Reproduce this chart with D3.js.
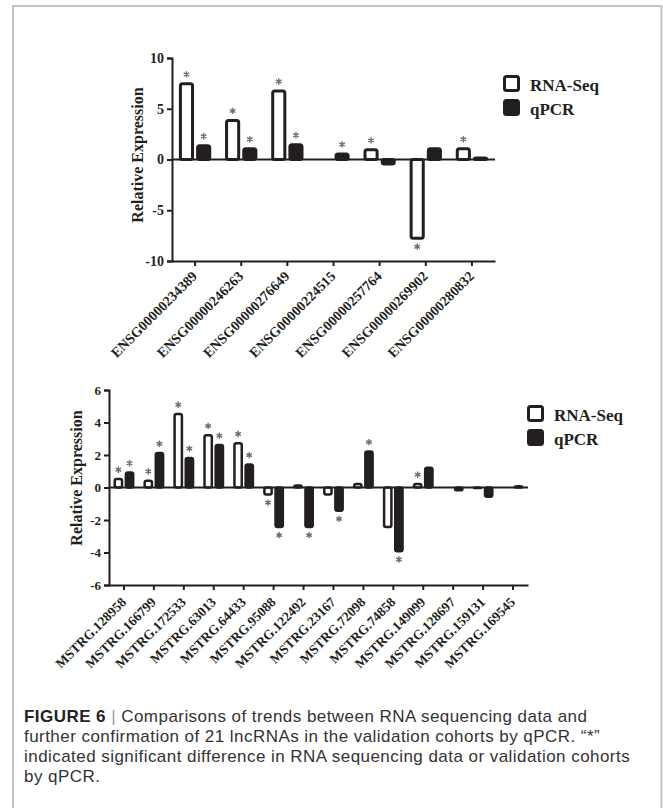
<!DOCTYPE html>
<html>
<head>
<meta charset="utf-8">
<script src="https://cdn.jsdelivr.net/npm/d3@7"></script>
<style>
  body { margin: 0; background: #fff; }
  svg text { font-family: "Liberation Serif", "Times New Roman", serif; font-weight: bold; }
  .cap { font-family: "Liberation Sans", Arial, sans-serif; font-weight: normal; }
</style>
</head>
<body>
<div id="fig"></div>
<script>
const W = 663, H = 808;
const ink = '#231f20';

// top panel data
const topCats = ['ENSG00000234389', 'ENSG00000246263', 'ENSG00000276649', 'ENSG00000224515',
                 'ENSG00000257764', 'ENSG00000269902', 'ENSG00000280832'];
const topRna    = [7.6, 4.0, 6.9, 0, 1.1, -7.9, 1.2];
const topQpcr   = [1.5, 1.2, 1.6, 0.7, -0.6, 1.2, 0.3];
const topRnaSig  = [1, 1, 1, 0, 1, 1, 1];
const topQpcrSig = [1, 1, 1, 1, 0, 0, 0];
const topTicks = [-10, -5, 0, 5, 10];

// bottom panel data
const botCats = ['MSTRG.128958', 'MSTRG.166799', 'MSTRG.172533', 'MSTRG.63013', 'MSTRG.64433',
                 'MSTRG.95088', 'MSTRG.122492', 'MSTRG.23167', 'MSTRG.72098', 'MSTRG.74858',
                 'MSTRG.149099', 'MSTRG.128697', 'MSTRG.159131', 'MSTRG.169545'];
const botRna    = [0.6, 0.5, 4.6, 3.3, 2.8, -0.5, 0.2, -0.5, 0.3, -2.5, 0.3, 0, -0.1, 0];
const botQpcr   = [1.0, 2.2, 1.9, 2.7, 1.5, -2.5, -2.5, -1.5, 2.3, -4.0, 1.3, -0.25, -0.65, 0.15];
const botRnaSig  = [1, 1, 1, 1, 1, 1, 0, 0, 0, 0, 1, 0, 0, 0];
const botQpcrSig = [1, 1, 1, 1, 1, 1, 1, 1, 1, 1, 0, 0, 0, 0];
const botTicks = [-6, -4, -2, 0, 2, 4, 6];

const seriesNames = ['RNA-Seq', 'qPCR'];

const svg = d3.select('#fig').append('svg')
    .attr('width', W)
    .attr('height', H);

// light frame around the figure
svg.append('path')
   .attr('d', 'M13,808 L13,6 L661.5,6 L661.5,808')
   .attr('fill', 'none')
   .attr('stroke', '#c4c4c4')
   .attr('stroke-width', 2);

const star = d3.symbol(d3.symbolAsterisk, 28);

function panel(o) {
    const g = svg.append('g');
    const x = d3.scaleBand().domain(o.cats).range([o.x0, o.x1]);
    const y = d3.scaleLinear().domain(o.dom).range([o.yb, o.yt]);
    const half = x.bandwidth() * 0.35;

    // y axis (plain hyphen for negatives, like the original)
    const ya = g.append('g')
        .attr('transform', `translate(${o.x0},0)`)
        .call(d3.axisLeft(y).tickValues(o.ticks).tickFormat(d => String(d)).tickSize(5).tickPadding(3));
    ya.select('.domain').attr('stroke', ink).attr('stroke-width', 2);
    ya.selectAll('.tick line').attr('stroke', ink).attr('stroke-width', 2);
    ya.selectAll('text').attr('fill', ink).style('font-size', o.tickFs + 'px')
      .style('font-family', '"Liberation Serif", serif').style('font-weight', 'bold');

    // x axis at the bottom
    const xa = g.append('g')
        .attr('transform', `translate(0,${o.yb})`)
        .call(d3.axisBottom(x).tickSize(5).tickSizeOuter(0).tickFormat(''));
    xa.select('.domain').attr('stroke', ink).attr('stroke-width', 2);
    xa.selectAll('.tick line').attr('stroke', ink).attr('stroke-width', 2);

    g.selectAll('.xl')
     .data(o.cats)
     .enter()
     .append('text')
     .attr('class', 'xl')
     .attr('transform', d => `translate(${x(d) + x.bandwidth() / 2 + 3},${o.yb + o.lblDy}) rotate(-45)`)
     .attr('text-anchor', 'end')
     .attr('fill', ink)
     .style('font-size', o.lblFs + 'px')
     .text(d => d);

    // y label
    g.append('text')
     .attr('transform', `translate(${o.ylx},${o.yly}) rotate(-90)`)
     .attr('text-anchor', 'middle')
     .attr('fill', ink)
     .style('font-size', '16px')
     .text('Relative Expression');

    // bars
    const rows = [];
    o.cats.forEach((c, i) => {
        rows.push({ c: c, s: 0, v: o.rna[i], sig: o.rnaSig[i] });
        rows.push({ c: c, s: 1, v: o.qpcr[i], sig: o.qpcrSig[i] });
    });
    const inner = d3.scaleBand().domain([0, 1]).range([-half, half]).paddingInner(0.12);
    const bx = d => x(d.c) + x.bandwidth() / 2 + inner(d.s);
    const sw = o.sw;

    g.selectAll('.bar')
     .data(rows.filter(d => d.v !== 0))
     .enter()
     .append('rect')
     .attr('class', 'bar')
     .attr('x', d => bx(d) + sw / 2)
     .attr('width', inner.bandwidth() - sw)
     .attr('y', d => Math.min(y(d.v), y(0)) + (d.v > 0 ? sw / 2 : 0))
     .attr('height', d => Math.max(0.5, Math.abs(y(d.v) - y(0)) - sw / 2))
     .attr('rx', 2)
     .attr('fill', d => d.s === 0 ? '#fff' : ink)
     .attr('stroke', ink)
     .attr('stroke-width', sw);

    // zero line
    g.append('line')
     .attr('x1', o.x0).attr('x2', o.x1)
     .attr('y1', y(0)).attr('y2', y(0))
     .attr('stroke', ink)
     .attr('stroke-width', 2);

    // significance marks
    g.selectAll('.star')
     .data(rows.filter(d => d.sig))
     .enter()
     .append('path')
     .attr('class', 'star')
     .attr('d', star)
     .attr('transform', d => `translate(${bx(d) + inner.bandwidth() / 2},${d.v >= 0 ? y(d.v) - 8 : y(d.v) + 7})`)
     .attr('fill', 'none')
     .attr('stroke', '#6d6d6d')
     .attr('stroke-width', 1.4);

    // legend
    const lg = g.append('g').attr('transform', `translate(${o.lgx},${o.lgy})`);
    seriesNames.forEach((s, i) => {
        lg.append('rect')
          .attr('x', 1.5).attr('y', i * 24 + 1.5)
          .attr('width', 14).attr('height', 14)
          .attr('rx', 2)
          .attr('fill', i === 0 ? '#fff' : ink)
          .attr('stroke', ink)
          .attr('stroke-width', 3);
        lg.append('text')
          .attr('x', 27).attr('y', i * 24 + 16)
          .attr('fill', ink)
          .style('font-size', '17px')
          .text(s);
    });
}

panel({
    cats: topCats, rna: topRna, qpcr: topQpcr, rnaSig: topRnaSig, qpcrSig: topQpcrSig,
    ticks: topTicks, dom: [-10, 10],
    x0: 172, x1: 495, yb: 261, yt: 58,
    tickFs: 14, lblFs: 14, lblDy: 16, sw: 3,
    ylx: 143, yly: 155, lgx: 503, lgy: 75
});

panel({
    cats: botCats, rna: botRna, qpcr: botQpcr, rnaSig: botRnaSig, qpcrSig: botQpcrSig,
    ticks: botTicks, dom: [-6, 6],
    x0: 109, x1: 528, yb: 585, yt: 390,
    tickFs: 13, lblFs: 13.5, lblDy: 18, sw: 2.5,
    ylx: 82, yly: 478, lgx: 527, lgy: 405
});

// caption
const capLines = [
    null,
    'further confirmation of 21 lncRNAs in the validation cohorts by qPCR. \u201c*\u201d',
    'indicated significant difference in RNA sequencing data or validation cohorts',
    'by qPCR.'
];
const cap = svg.append('g');
const first = cap.append('text')
    .attr('class', 'cap')
    .attr('x', 24).attr('y', 722)
    .style('font-size', '17px')
    .style('letter-spacing', '0.45px');
first.append('tspan').style('font-weight', 'bold').attr('fill', '#222').text('FIGURE 6');
first.append('tspan').attr('fill', '#999').text(' | ');
first.append('tspan').attr('fill', '#333').text('Comparisons of trends between RNA sequencing data and');
capLines.forEach((t, i) => {
    if (!t) return;
    cap.append('text')
       .attr('class', 'cap')
       .attr('x', 24).attr('y', 722 + i * 20)
       .attr('fill', '#333')
       .style('font-size', '17px')
       .style('letter-spacing', '0.45px')
       .text(t);
});
</script>
</body>
</html>
